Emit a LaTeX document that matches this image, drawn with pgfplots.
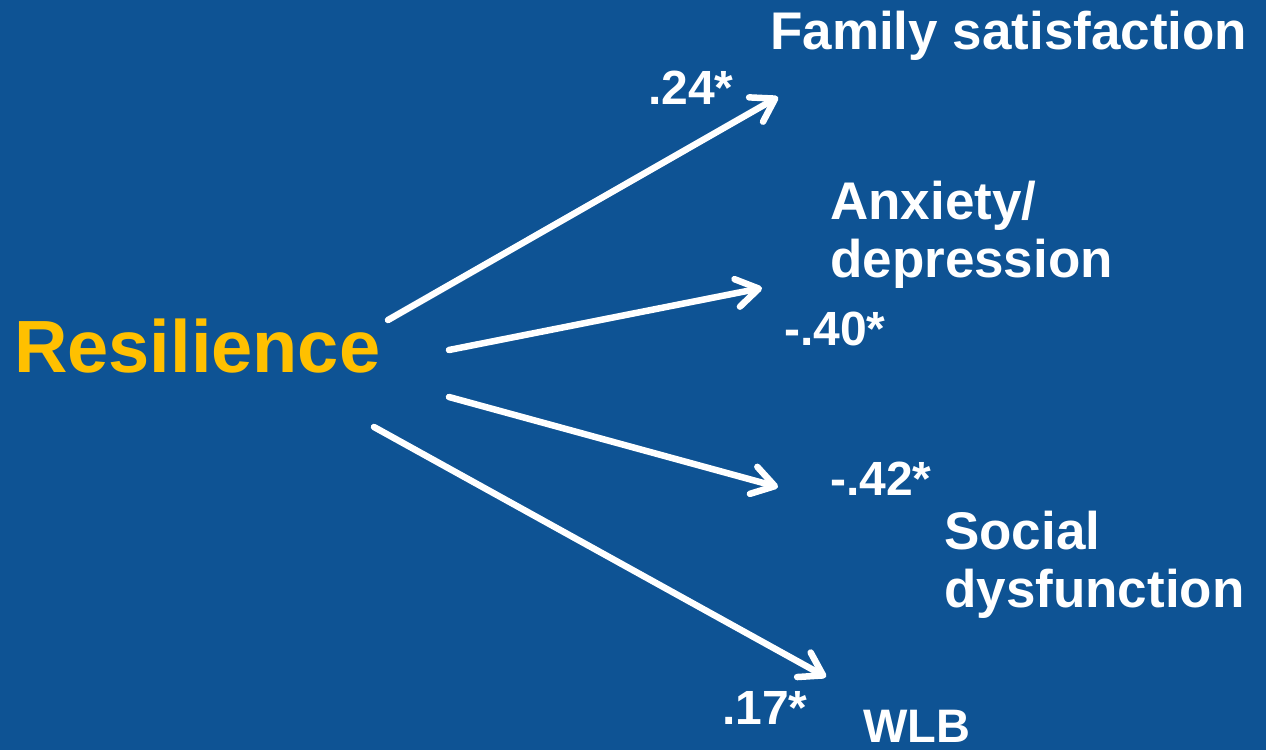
\documentclass[border=0pt]{standalone}
\usepackage{fontspec}
\setmainfont{Liberation Sans}
\usepackage{pgfplots}
\pgfplotsset{compat=1.18}
\usetikzlibrary{arrows.meta}
\definecolor{bgblue}{HTML}{0E5394}
\definecolor{resyellow}{HTML}{FFC000}
\tikzset{
  lbl/.style={anchor=base west, inner sep=0pt, text=white, font=\bfseries\fontsize{53}{60}\selectfont},
  coef/.style={anchor=base west, inner sep=0pt, text=white, font=\bfseries\fontsize{48}{56}\selectfont},
  arr/.style={white, no marks, line width=6.5pt, line cap=round,
    -{Straight Barb[length=22pt,width=28pt,line cap=round,line join=round]}},
}
\begin{document}
\begin{tikzpicture}
\begin{axis}[
  scale only axis, width=1266pt, height=750pt,
  xmin=0, xmax=1266, ymin=0, ymax=750, y dir=reverse,
  hide axis, clip=false,
]
\fill[bgblue] (axis cs:0,0) rectangle (axis cs:1266,750);
\addplot[arr] coordinates {(388,320) (778,97)};
\addplot[arr] coordinates {(449,350) (762,288)};
\addplot[arr] coordinates {(449,397) (778,487)};
\addplot[arr] coordinates {(374,427) (826,677)};
\node[anchor=base west, inner sep=0pt, text=resyellow, font=\bfseries\fontsize{74}{80}\selectfont] at (axis cs:14,372) {Resilience};
\node[lbl] at (axis cs:770,49) {Family satisfaction};
\node[coef] at (axis cs:648,104) {.24*};
\node[lbl] at (axis cs:830,219) {Anxiety/};
\node[lbl] at (axis cs:830,277) {depression};
\node[coef] at (axis cs:784,345) {-.40*};
\node[coef] at (axis cs:830,495) {-.42*};
\node[lbl] at (axis cs:944,549) {Social};
\node[lbl] at (axis cs:944,607) {dysfunction};
\node[coef] at (axis cs:722,724) {.17*};
\node[anchor=base west, inner sep=0pt, text=white, font=\bfseries\fontsize{47}{54}\selectfont] at (axis cs:863,742) {WLB};
\end{axis}
\pgfresetboundingbox
\useasboundingbox (current axis.south west) rectangle (current axis.north east);
\end{tikzpicture}
\end{document}
